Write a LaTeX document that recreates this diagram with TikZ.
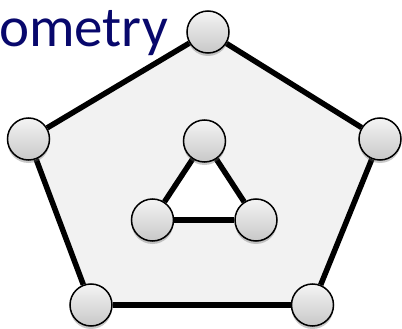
\documentclass[tikz,border=0pt]{standalone}
\usepackage{fontspec}
\setmainfont{Carlito}
\usetikzlibrary{backgrounds,shadows}
\definecolor{titleblue}{RGB}{8,8,108}
\definecolor{pentfill}{RGB}{242,242,242}
\definecolor{nodetop}{RGB}{244,244,244}
\definecolor{nodebot}{RGB}{200,200,200}
\tikzset{
  vtx/.style={circle, draw=black, line width=1.5pt, minimum size=42pt, inner sep=0pt,
    top color=nodetop, bottom color=nodebot,
    drop shadow={shadow xshift=0pt, shadow yshift=-3pt, opacity=0.35, fill=black!60}},
  edge/.style={line width=5.5pt, draw=black},
  title/.style={text=titleblue, font=\fontsize{57}{60}\selectfont, inner sep=0pt, anchor=base west}
}
\begin{document}
\begin{tikzpicture}[x=1pt,y=-1pt]
\useasboundingbox (0,0) rectangle (402,329);
\node[title] (ttl) at (-1,47) {ometry};
\node[vtx] (t) at (208,32) {};
\node[vtx] (r) at (380,139) {};
\node[vtx] (br) at (312.5,305) {};
\node[vtx] (bl) at (91,305) {};
\node[vtx] (l) at (28.5,139) {};
\node[vtx] (it) at (204.5,141) {};
\node[vtx] (il) at (152.5,220) {};
\node[vtx] (ir) at (256,220) {};
\begin{scope}[on background layer]
\fill[pentfill] (t.center) -- (r.center) -- (br.center) -- (bl.center) -- (l.center) -- cycle;
\fill[white] (it.center) -- (ir.center) -- (il.center) -- cycle;
\draw[edge] (t) -- (r);
\draw[edge] (r) -- (br);
\draw[edge] (br) -- (bl);
\draw[edge] (bl) -- (l);
\draw[edge] (l) -- (t);
\draw[edge] (it) -- (ir);
\draw[edge] (ir) -- (il);
\draw[edge] (il) -- (it);
\end{scope}
\end{tikzpicture}
\end{document}
